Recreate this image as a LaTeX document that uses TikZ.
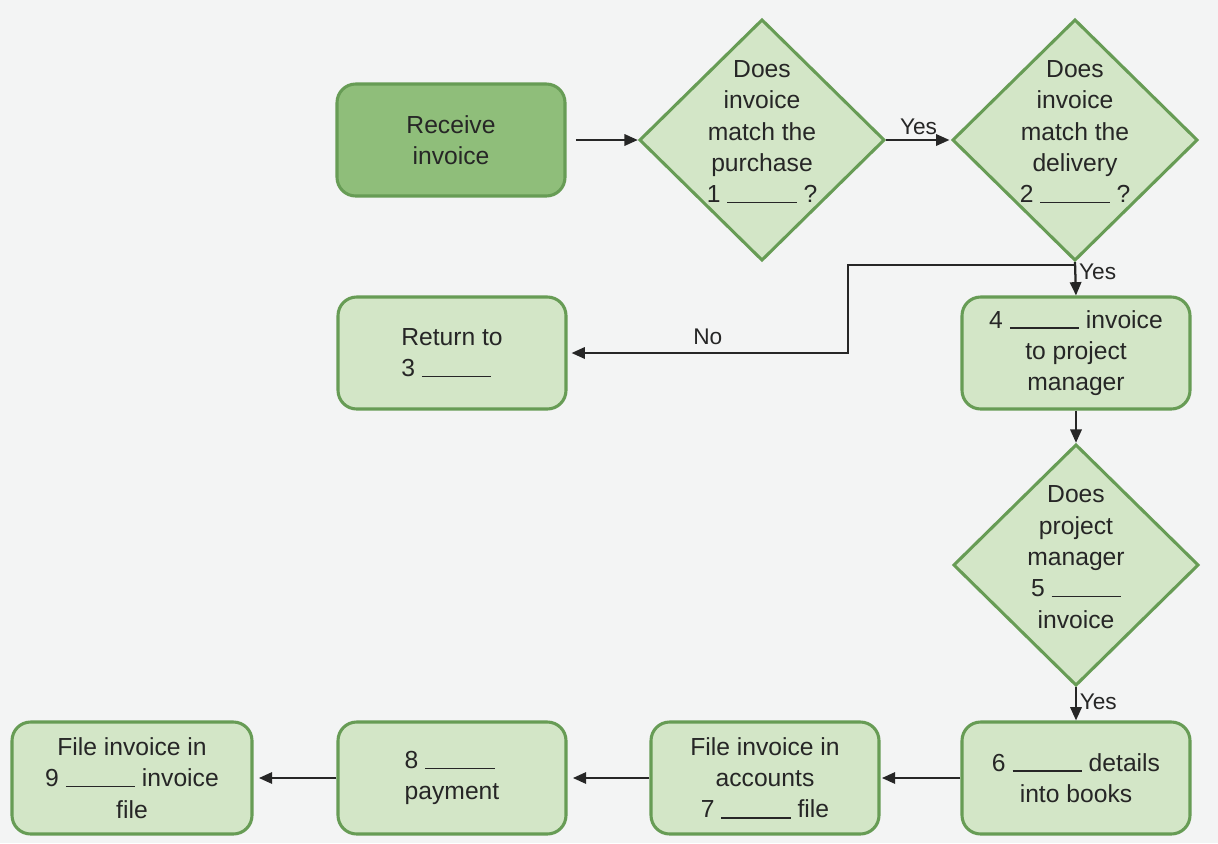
\documentclass[tikz,border=0pt]{standalone}
\usepackage{fontspec}
\setmainfont{Liberation Sans}
\usetikzlibrary{shapes.geometric,arrows.meta}
\definecolor{bg}{HTML}{F3F4F4}
\definecolor{darkfill}{HTML}{8FBE7A}
\definecolor{lightfill}{HTML}{D3E6C7}
\definecolor{edgegreen}{HTML}{679C55}
\definecolor{ink}{HTML}{262626}
\newcommand{\blank}[1][52pt]{\rule[-0.5pt]{#1}{1pt}}
\tikzset{
  box/.style={draw=edgegreen, line width=2.3pt, fill=lightfill, rounded corners=14pt,
    minimum width=171pt, minimum height=84pt, align=center, text=ink,
    font=\fontsize{18.5}{23.5}\selectfont},
  firstbox/.style={box, fill=darkfill},
  dec/.style={draw=edgegreen, line width=2.3pt, fill=lightfill, diamond,
    minimum width=184pt, minimum height=181pt, inner sep=0pt},
  dtext/.style={align=center, text=ink, font=\fontsize{18.5}{23.5}\selectfont},
  arr/.style={-{Triangle[length=10pt,width=8.5pt]}, line width=1.7pt, black!85},
  lbl/.style={font=\fontsize{17}{20}\selectfont, text=ink, inner sep=2pt}
}
\begin{document}
\begin{tikzpicture}[x=0.75pt,y=-0.75pt]
\fill[bg] (0,0) rectangle (1218,843);
\useasboundingbox (0,0) rectangle (1218,843);

\node[firstbox] (recv) at (451,140) {Receive\\invoice};
\node[dec] (d1) at (762,140) {};
\node[dtext] at ([yshift=6pt]d1.center) {Does\\invoice\\match the\\purchase\\1 \blank{} ?};
\node[dec] (d2) at (1075,140) {};
\node[dtext] at ([yshift=6pt]d2.center) {Does\\invoice\\match the\\delivery\\2 \blank{} ?};

\node[box, align=left] (ret) at (452,353) {Return to\\3 \blank};
\node[box] (b4) at (1076,353) {4 \blank{} invoice\\to project\\manager};

\node[dec] (d3) at (1076,565) {};
\node[dtext] at ([yshift=6pt]d3.center) {Does\\project\\manager\\5 \blank\\invoice};

\node[box] (b6) at (1076,778) {6 \blank{} details\\into books};
\node[box] (b7) at (765,778) {File invoice in\\accounts\\7 \blank{} file};
\node[box, align=left] (b8) at (452,778) {8 \blank\\payment};
\node[box, minimum width=180pt] (b9) at (132,778) {File invoice in\\9 \blank{} invoice\\file};

\coordinate (split) at (1075,265);
\coordinate (bend) at (848,353);

\draw[arr, shorten <=7pt] (recv.east) -- (d1.west);
\draw[arr, shorten >=1pt] (d1.east) -- node[above, lbl, yshift=1pt] {Yes} (d2.west);
\draw[arr] (d2.south) -- node[right, lbl, pos=0.3] {Yes} (b4.north);
\draw[arr, shorten >=3pt] (split) -| (bend) -- node[above, lbl, pos=0.5, yshift=3pt] {No} (ret.east);
\draw[arr] (b4.south) -- (d3.north);
\draw[arr] (d3.south) -- node[right, lbl, pos=0.45] {Yes} (b6.north);
\draw[arr, shorten >=1pt] (b6.west) -- (b7.east);
\draw[arr, shorten >=4pt] (b7.west) -- (b8.east);
\draw[arr, shorten >=4pt] (b8.west) -- (b9.east);
\end{tikzpicture}
\end{document}
